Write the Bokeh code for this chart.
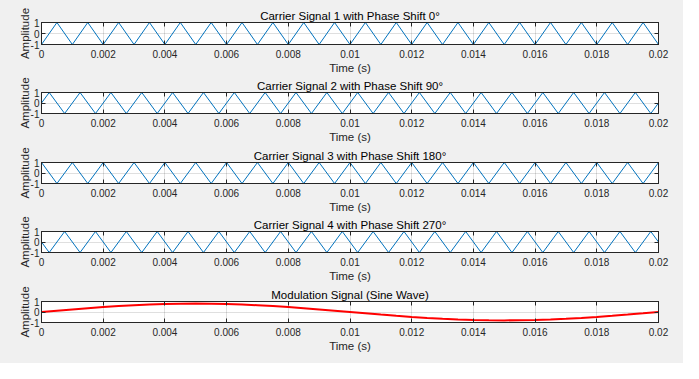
from bokeh.plotting import figure
from bokeh.layouts import column
from bokeh.models import LinearAxis, FixedTicker, CustomJSTickFormatter, Range1d
from bokeh.embed import file_html
from bokeh.resources import INLINE

# ---------------- data ----------------
x_ticks = [0, 0.002, 0.004, 0.006, 0.008, 0.01, 0.012, 0.014, 0.016, 0.018, 0.02]
x_tick_labels = ["0", "0.002", "0.004", "0.006", "0.008", "0.01", "0.012", "0.014", "0.016", "0.018", "0.02"]
y_ticks = [-1, 0, 1]
y_tick_labels = ["-1", "0", "1"]

titles = [
    "Carrier Signal 1 with Phase Shift 0°",
    "Carrier Signal 2 with Phase Shift 90°",
    "Carrier Signal 3 with Phase Shift 180°",
    "Carrier Signal 4 with Phase Shift 270°",
    "Modulation Signal (Sine Wave)",
]
x_label = "Time (s)"
y_label = "Amplitude"

# vertex times of carriers 1 and 3 (half periods)
t_half = [0, 0.0005, 0.001, 0.0015, 0.002, 0.0025, 0.003, 0.0035, 0.004, 0.0045,
          0.005, 0.0055, 0.006, 0.0065, 0.007, 0.0075, 0.008, 0.0085, 0.009, 0.0095,
          0.01, 0.0105, 0.011, 0.0115, 0.012, 0.0125, 0.013, 0.0135, 0.014, 0.0145,
          0.015, 0.0155, 0.016, 0.0165, 0.017, 0.0175, 0.018, 0.0185, 0.019, 0.0195, 0.02]
# vertex times of carriers 2 and 4 (quarter-shifted)
t_quarter = [0, 0.00025, 0.00075, 0.00125, 0.00175, 0.00225, 0.00275, 0.00325, 0.00375, 0.00425,
             0.00475, 0.00525, 0.00575, 0.00625, 0.00675, 0.00725, 0.00775, 0.00825, 0.00875,
             0.00925, 0.00975, 0.01025, 0.01075, 0.01125, 0.01175, 0.01225, 0.01275, 0.01325,
             0.01375, 0.01425, 0.01475, 0.01525, 0.01575, 0.01625, 0.01675, 0.01725, 0.01775,
             0.01825, 0.01875, 0.01925, 0.01975, 0.02]

carrier1 = [-1, 1, -1, 1, -1, 1, -1, 1, -1, 1, -1, 1, -1, 1, -1, 1, -1, 1, -1, 1,
            -1, 1, -1, 1, -1, 1, -1, 1, -1, 1, -1, 1, -1, 1, -1, 1, -1, 1, -1, 1, -1]
carrier2 = [0, 1, -1, 1, -1, 1, -1, 1, -1, 1, -1, 1, -1, 1, -1, 1, -1, 1, -1, 1, -1,
            1, -1, 1, -1, 1, -1, 1, -1, 1, -1, 1, -1, 1, -1, 1, -1, 1, -1, 1, -1, 0]
carrier3 = [1, -1, 1, -1, 1, -1, 1, -1, 1, -1, 1, -1, 1, -1, 1, -1, 1, -1, 1, -1,
            1, -1, 1, -1, 1, -1, 1, -1, 1, -1, 1, -1, 1, -1, 1, -1, 1, -1, 1, -1, 1]
carrier4 = [0, -1, 1, -1, 1, -1, 1, -1, 1, -1, 1, -1, 1, -1, 1, -1, 1, -1, 1, -1, 1,
            -1, 1, -1, 1, -1, 1, -1, 1, -1, 1, -1, 1, -1, 1, -1, 1, -1, 1, -1, 1, 0]

mod_t = t_half
mod_v = [0, 0.1251, 0.2472, 0.3632, 0.4702, 0.5657, 0.6472, 0.7128, 0.7608, 0.7902,
         0.8, 0.7902, 0.7608, 0.7128, 0.6472, 0.5657, 0.4702, 0.3632, 0.2472, 0.1251,
         0, -0.1251, -0.2472, -0.3632, -0.4702, -0.5657, -0.6472, -0.7128, -0.7608, -0.7902,
         -0.8, -0.7902, -0.7608, -0.7128, -0.6472, -0.5657, -0.4702, -0.3632, -0.2472, -0.1251, 0]

series = [
    (t_half, carrier1, "#0072BD", 1),
    (t_quarter, carrier2, "#0072BD", 1),
    (t_half, carrier3, "#0072BD", 1),
    (t_quarter, carrier4, "#0072BD", 1),
    (mod_t, mod_v, "#FF0000", 2),
]

# ---------------- styling ----------------
FONT = "Liberation Sans"
BG = "#f0f0f0"
AX = "#262626"
heights = [76, 70, 69, 70, 78]
tops = [22, 15, 15, 15, 15]
bottoms = [32, 33, 32, 33, 41]


def fmt(ticks, labels):
    return CustomJSTickFormatter(
        args=dict(tk=ticks, lb=labels),
        code="const i = tk.findIndex(t => Math.abs(t - tick) < 1e-9); return i >= 0 ? lb[i] : '';",
    )


def blank_fmt():
    return CustomJSTickFormatter(code="return '';")


def make(i):
    t, v, color, lw = series[i]
    p = figure(width=683, height=heights[i], output_backend="svg", toolbar_location=None,
               x_range=Range1d(0, 0.02), y_range=Range1d(-1, 1),
               min_border_left=41, min_border_right=25,
               min_border_top=tops[i], min_border_bottom=bottoms[i],
               background_fill_color="white", border_fill_color=BG,
               outline_line_color=AX, outline_line_width=1)
    p.title.text = titles[i]
    p.title.align = "center"
    p.title.text_font = FONT
    p.title.text_font_size = "11.5px"
    p.title.text_font_style = "normal"
    p.title.text_color = "#000000"
    p.title.text_line_height = 1.0
    p.title.standoff = 2

    xa = p.xaxis[0]
    xa.ticker = FixedTicker(ticks=x_ticks)
    xa.formatter = fmt(x_ticks, x_tick_labels)
    xa.axis_label = x_label
    ya = p.yaxis[0]
    ya.ticker = FixedTicker(ticks=y_ticks)
    ya.formatter = fmt(y_ticks, y_tick_labels)
    ya.axis_label = y_label
    for ax in (xa, ya):
        ax.major_tick_in = 4
        ax.major_tick_out = 0
        ax.minor_tick_line_color = None
        ax.axis_line_color = AX
        ax.major_tick_line_color = AX
        ax.major_label_text_font = FONT
        ax.major_label_text_font_size = "10px"
        ax.major_label_text_color = AX
        ax.major_label_text_line_height = 1.0
        ax.axis_label_text_font = FONT
        ax.axis_label_text_font_size = "11.5px"
        ax.axis_label_text_font_style = "normal"
        ax.axis_label_text_color = AX
        ax.axis_label_text_line_height = 1.0
    xa.major_label_standoff = 5
    xa.axis_label_standoff = 1
    ya.major_label_standoff = 2
    ya.axis_label_standoff = -3

    # box ticks on the top and right sides
    top = LinearAxis(ticker=FixedTicker(ticks=x_ticks), formatter=blank_fmt(),
                     major_tick_in=4, major_tick_out=0, minor_tick_line_color=None,
                     axis_line_color=AX, major_tick_line_color=AX,
                     major_label_text_font_size="0px", major_label_standoff=0)
    right = LinearAxis(ticker=FixedTicker(ticks=y_ticks), formatter=blank_fmt(),
                       major_tick_in=4, major_tick_out=0, minor_tick_line_color=None,
                       axis_line_color=AX, major_tick_line_color=AX,
                       major_label_text_font_size="0px", major_label_standoff=0)
    p.add_layout(top, "above")
    p.add_layout(right, "right")

    p.xgrid.ticker = FixedTicker(ticks=x_ticks)
    p.ygrid.ticker = FixedTicker(ticks=y_ticks)
    for g in (p.xgrid[0], p.ygrid[0]):
        g.grid_line_color = AX
        g.grid_line_alpha = 0.15

    p.line(t, v, line_color=color, line_width=lw)
    return p


plots = [make(i) for i in range(5)]
layout = column(*plots, spacing=0, styles={"background-color": BG})

open("out.html", "w").write(file_html(layout, INLINE))
